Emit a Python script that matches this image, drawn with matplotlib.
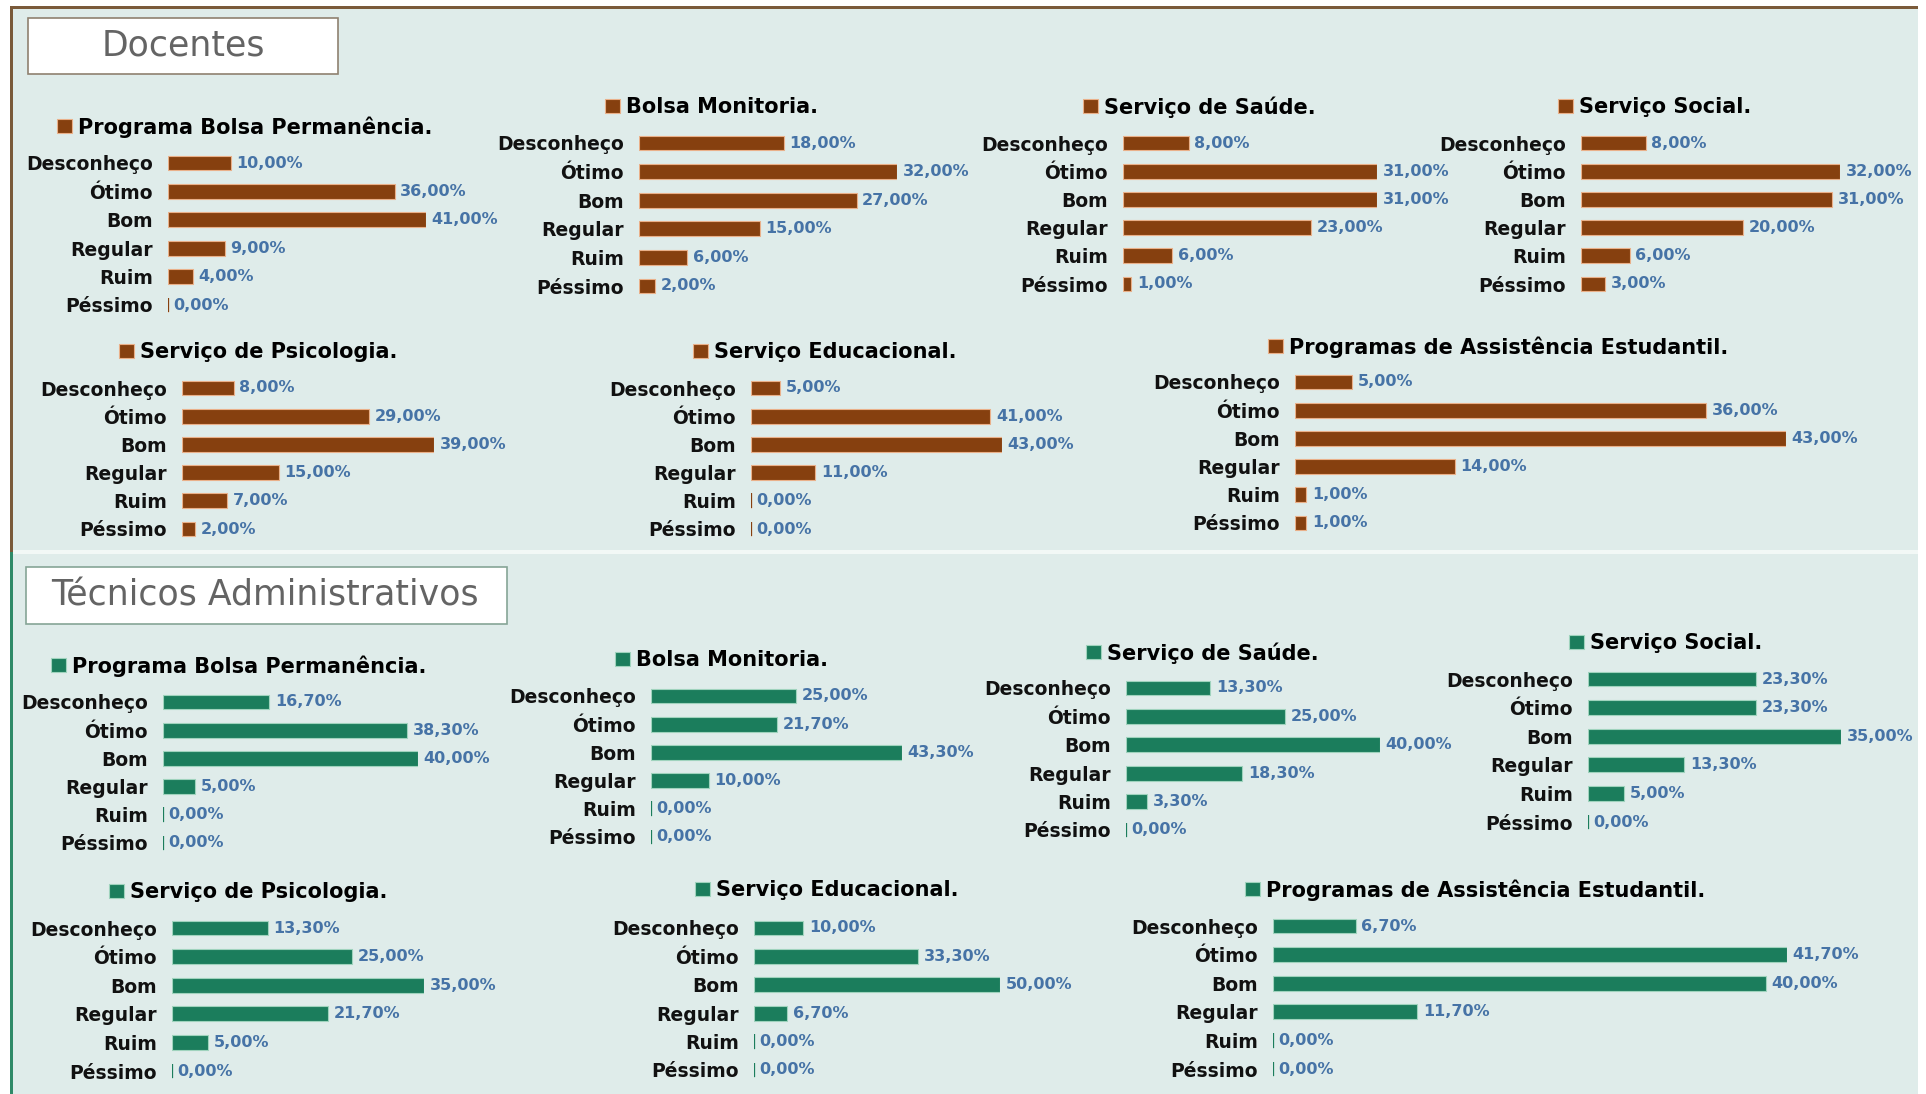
import matplotlib
matplotlib.use("Agg")
import matplotlib.pyplot as plt
from matplotlib.patches import Rectangle

plt.rcParams['font.family'] = ['DejaVu Sans']

W, H = 1926, 1094

categories = ['Desconheço', 'Ótimo', 'Bom', 'Regular', 'Ruim', 'Péssimo']

chart_titles = ['Programa Bolsa Permanência.', 'Bolsa Monitoria.', 'Serviço de Saúde.',
                'Serviço Social.', 'Serviço de Psicologia.', 'Serviço Educacional.',
                'Programas de Assistência Estudantil.']

# percentages, one list per chart, in category order
doc_bolsa_perm = [10, 36, 41, 9, 4, 0]
doc_monitoria = [18, 32, 27, 15, 6, 2]
doc_saude = [8, 31, 31, 23, 6, 1]
doc_social = [8, 32, 31, 20, 6, 3]
doc_psicologia = [8, 29, 39, 15, 7, 2]
doc_educacional = [5, 41, 43, 11, 0, 0]
doc_assistencia = [5, 36, 43, 14, 1, 1]

tec_bolsa_perm = [16.7, 38.3, 40, 5, 0, 0]
tec_monitoria = [25, 21.7, 43.3, 10, 0, 0]
tec_saude = [13.3, 25, 40, 18.3, 3.3, 0]
tec_social = [23.3, 23.3, 35, 13.3, 5, 0]
tec_psicologia = [13.3, 25, 35, 21.7, 5, 0]
tec_educacional = [10, 33.3, 50, 6.7, 0, 0]
tec_assistencia = [6.7, 41.7, 40, 11.7, 0, 0]

docentes = [doc_bolsa_perm, doc_monitoria, doc_saude, doc_social,
            doc_psicologia, doc_educacional, doc_assistencia]
tecnicos = [tec_bolsa_perm, tec_monitoria, tec_saude, tec_social,
            tec_psicologia, tec_educacional, tec_assistencia]

# layout in pixels: bar start x, longest bar length, first row y, last row y, legend x, legend y
doc_layout = [
    (168, 258, 163, 305, 57, 127),
    (639, 258, 143, 286, 605, 107),
    (1123, 254, 143, 284, 1083, 107),
    (1581, 259, 143, 284, 1558, 107),
    (182, 252, 388, 529, 119, 352),
    (751, 251, 388, 529, 693, 352),
    (1295, 491, 382, 523, 1268, 347),
]
tec_layout = [
    (163, 255, 702, 843, 51, 666),
    (651, 251, 696, 837, 615, 660),
    (1126, 254, 688, 830, 1086, 653),
    (1588, 253, 679, 822, 1569, 643),
    (172, 252, 928, 1071, 109, 892),
    (754, 246, 928, 1070, 695, 890),
    (1273, 514, 926, 1069, 1245, 890),
]

brown, brown_edge = '#86400f', '#eab089'
green, green_edge = '#1b7d5c', '#9fd3bd'
label_color = '#4673a6'
bg = '#dfecea'

fig = plt.figure(figsize=(W / 100, H / 100), dpi=100)
fig.patch.set_facecolor('white')


def px_rect(x, y, w, h, **kw):
    fig.add_artist(Rectangle((x / W, 1 - (y + h) / H), w / W, h / H,
                             transform=fig.transFigure, **kw))


# panel backgrounds and borders
px_rect(12, 8, 1906, 1086, facecolor=bg, edgecolor='none', zorder=0)
px_rect(12, 6, 1906, 3, facecolor='#7a5a3a', edgecolor='none', zorder=1)
px_rect(10, 6, 3, 546, facecolor='#7a5a3a', edgecolor='none', zorder=1)
px_rect(10, 552, 3, 542, facecolor='#2f8a68', edgecolor='none', zorder=1)
px_rect(13, 550, 1905, 4, facecolor='#f2f8f6', edgecolor='none', zorder=1)

# header boxes
px_rect(28, 18, 310, 56, facecolor='white', edgecolor='#8f8170', lw=1.2, zorder=2)
fig.text(183 / W, 1 - 45 / H, 'Docentes', ha='center', va='center',
         fontsize=25, color='#646464', zorder=3)
px_rect(26, 567, 481, 57, facecolor='white', edgecolor='#86a596', lw=1.2, zorder=2)
fig.text(265 / W, 1 - 596 / H, 'Técnicos Administrativos', ha='center', va='center',
         fontsize=25, color='#646464', zorder=3)


def draw_chart(title, vals, lay, color, edge):
    x0, blen, yf, yl, lx, ly = lay
    step = (yl - yf) / (len(categories) - 1)
    top = yf - step / 2
    height = step * len(categories)
    ax = fig.add_axes([x0 / W, 1 - (top + height) / H, blen / W, height / H])
    ax.set_facecolor('none')
    pos = list(range(len(categories)))
    bars = ax.barh(pos, vals, height=0.52, color=color, edgecolor=edge,
                   linewidth=0.8, label=title)
    zero = [v if v == 0 else float('nan') for v in vals]
    ax.barh(pos, zero, height=0.52, color=color, edgecolor=color, linewidth=1.6)
    ax.set_xlim(0, max(vals))
    ax.set_ylim(len(categories) - 0.5, -0.5)
    ax.set_yticks(pos)
    ax.set_yticklabels(categories, fontsize=13.5, fontweight='bold', color='#111111')
    ax.tick_params(axis='y', length=0, pad=11)
    ax.set_xticks([])
    for s in ax.spines.values():
        s.set_visible(False)
    for p, v in zip(pos, vals):
        ax.annotate(f'{v:.2f}%'.replace('.', ','), (v, p), xytext=(4, 0),
                    textcoords='offset points', va='center', ha='left',
                    fontsize=11.5, fontweight='bold', color=label_color,
                    annotation_clip=False)
    ax.legend(handles=[bars], loc='center left', bbox_to_anchor=(lx / W, 1 - ly / H),
              bbox_transform=fig.transFigure, frameon=False, borderpad=0,
              borderaxespad=0, handlelength=0.7, handleheight=0.65,
              handletextpad=0.3, prop={'size': 15, 'weight': 'bold'})


for t, v, lay in zip(chart_titles, docentes, doc_layout):
    draw_chart(t, v, lay, brown, brown_edge)
for t, v, lay in zip(chart_titles, tecnicos, tec_layout):
    draw_chart(t, v, lay, green, green_edge)

fig.savefig('out.png', dpi=100, facecolor=fig.get_facecolor())
